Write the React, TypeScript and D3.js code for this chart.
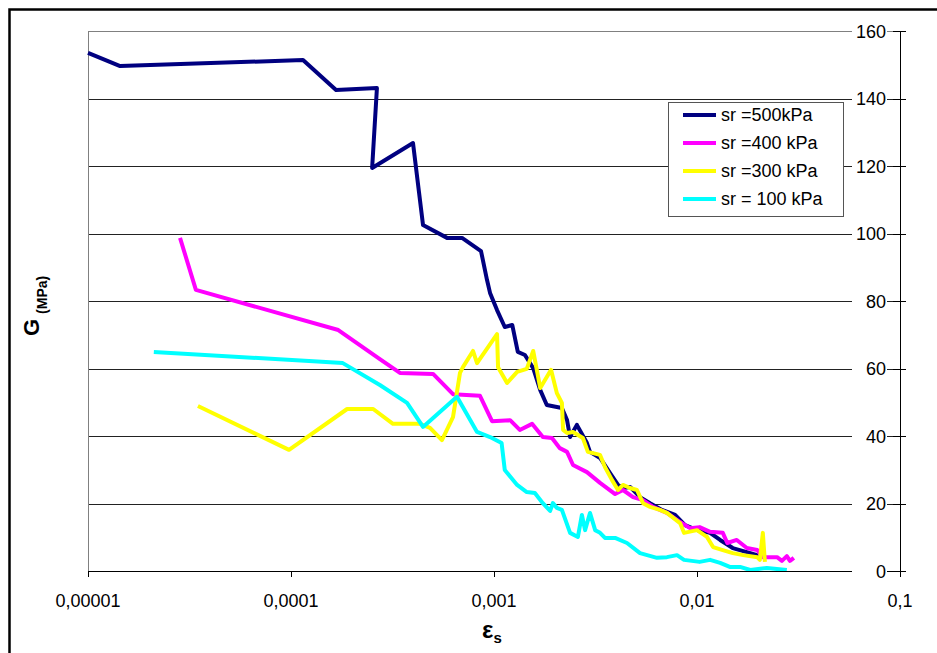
import React from "react";
import * as d3 from "d3";

// ---- data ----
const seriesNames = ["sr =500kPa", "sr =400 kPa", "sr =300 kPa", "sr = 100 kPa"];
const seriesColors = ["#000080", "#FF00FF", "#FFFF00", "#00FFFF"];

const strain500 = [1.0e-5, 1.44e-5, 1.146e-4, 1.667e-4, 2.65e-4, 2.51e-4, 3.99e-4, 4.27e-4, 4.47e-4, 5.87e-4, 6.96e-4, 8.63e-4, 9.24e-4, 9.56e-4, 1.035e-3, 1.13e-3, 1.23e-3, 1.31e-3, 1.42e-3, 1.56e-3, 1.69e-3, 1.82e-3, 2.16e-3, 2.29e-3, 2.37e-3, 2.56e-3, 2.87e-3, 2.97e-3, 3.33e-3, 3.73e-3, 4.08e-3, 4.32e-3, 4.68e-3, 5.24e-3, 5.87e-3, 6.72e-3, 7.8e-3, 8.73e-3, 1.0e-2, 1.16e-2, 1.3e-2, 1.5e-2, 1.76e-2, 1.98e-2, 2.09e-2];
const g500 = [153.5, 149.6, 151.4, 142.5, 143.1, 119.4, 126.8, 112.3, 102.5, 98.7, 98.7, 94.8, 86.2, 82.4, 77.3, 72.3, 72.9, 64.9, 64.0, 60.1, 53.6, 49.2, 48.3, 44.7, 39.7, 43.3, 37.9, 35.3, 33.5, 29.0, 25.5, 24.6, 24.9, 21.9, 20.1, 18.1, 16.6, 13.6, 12.1, 11.3, 9.2, 6.8, 5.6, 4.7, 4.1];

const strain400 = [2.84e-5, 3.4e-5, 1.71e-4, 2.74e-4, 3.44e-4, 5.01e-4, 6.28e-4, 8.53e-4, 9.78e-4, 1.2e-3, 1.34e-3, 1.54e-3, 1.74e-3, 1.93e-3, 2.11e-3, 2.29e-3, 2.45e-3, 2.87e-3, 3.33e-3, 3.95e-3, 4.32e-3, 4.84e-3, 5.42e-3, 6.07e-3, 7.11e-3, 8.25e-3, 9.24e-3, 1.03e-2, 1.16e-2, 1.34e-2, 1.41e-2, 1.57e-2, 1.76e-2, 1.98e-2, 2.11e-2, 2.48e-2, 2.62e-2, 2.77e-2, 2.87e-2, 3.0e-2];
const g400 = [98.7, 83.3, 71.4, 62.8, 58.7, 58.4, 52.4, 51.9, 44.4, 44.7, 41.8, 43.6, 39.7, 39.4, 36.4, 35.3, 31.4, 29.3, 26.1, 22.8, 24.0, 21.9, 21.0, 19.0, 17.2, 14.5, 12.7, 13.0, 11.6, 11.3, 8.3, 9.2, 6.8, 6.2, 4.1, 4.1, 3.0, 4.4, 3.0, 3.9];

const strain300 = [3.48e-5, 9.78e-5, 1.89e-4, 2.54e-4, 3.18e-4, 4.32e-4, 4.84e-4, 5.54e-4, 6.28e-4, 6.8e-4, 7.03e-4, 7.88e-4, 8.25e-4, 1.035e-3, 1.047e-3, 1.16e-3, 1.3e-3, 1.45e-3, 1.56e-3, 1.69e-3, 1.91e-3, 2.04e-3, 2.16e-3, 2.19e-3, 2.29e-3, 2.45e-3, 2.74e-3, 2.9e-3, 3.33e-3, 3.52e-3, 3.81e-3, 4.08e-3, 4.32e-3, 4.68e-3, 5.06e-3, 5.42e-3, 5.87e-3, 6.57e-3, 7.11e-3, 8.25e-3, 8.63e-3, 1.0e-2, 1.12e-2, 1.2e-2, 1.34e-2, 1.5e-2, 1.69e-2, 1.98e-2, 2.04e-2, 2.11e-2, 2.16e-2];
const g300 = [48.9, 35.9, 48.0, 48.0, 43.6, 43.6, 42.4, 38.8, 45.6, 58.7, 60.4, 65.2, 61.6, 70.2, 60.4, 55.7, 59.0, 59.9, 65.2, 54.2, 59.6, 52.7, 49.8, 41.8, 40.9, 41.2, 39.4, 35.3, 34.4, 30.8, 27.0, 24.0, 25.5, 24.6, 24.0, 20.1, 19.0, 18.1, 17.2, 14.2, 11.3, 12.1, 10.1, 7.1, 6.2, 5.3, 4.7, 4.1, 3.3, 11.3, 2.7];

const strain100 = [2.11e-5, 1.8e-4, 2.74e-4, 3.73e-4, 4.47e-4, 6.57e-4, 8.25e-4, 9.56e-4, 1.09e-3, 1.13e-3, 1.3e-3, 1.45e-3, 1.59e-3, 1.74e-3, 1.89e-3, 1.95e-3, 2.04e-3, 2.16e-3, 2.37e-3, 2.59e-3, 2.71e-3, 2.81e-3, 2.97e-3, 3.15e-3, 3.33e-3, 3.52e-3, 3.95e-3, 4.52e-3, 5.24e-3, 6.35e-3, 7.11e-3, 7.97e-3, 8.63e-3, 1.03e-2, 1.16e-2, 1.3e-2, 1.45e-2, 1.63e-2, 1.83e-2, 2.21e-2, 2.77e-2];
const g100 = [64.9, 61.6, 55.1, 49.8, 42.7, 51.6, 41.2, 39.7, 37.9, 29.9, 25.5, 23.4, 23.1, 20.1, 17.8, 20.1, 18.7, 18.1, 11.3, 10.1, 16.6, 12.1, 17.2, 12.1, 11.3, 9.8, 9.8, 8.3, 5.3, 3.9, 4.1, 4.7, 3.3, 2.7, 3.3, 2.4, 1.2, 1.2, 0.3, 0.9, 0.3];

const xTicks = [1e-5, 1e-4, 1e-3, 1e-2, 1e-1];
const xTickLabels = ["0,00001", "0,0001", "0,001", "0,01", "0,1"];
const yTicks = [0, 20, 40, 60, 80, 100, 120, 140, 160];

const strains = [strain500, strain400, strain300, strain100];
const gs = [g500, g400, g300, g100];

export default function App() {
  const W = 937, H = 653;
  const x = d3.scaleLog().domain([1e-5, 0.1]).range([88, 900]);
  const y = d3.scaleLinear().domain([0, 160]).range([571, 31]);
  const line = d3
    .line<[number, number]>()
    .x((d) => x(d[0]))
    .y((d) => y(d[1]));
  const font = "Arial, 'Liberation Sans', sans-serif";

  return (
    <svg
      width={W}
      height={H}
      style={{ position: "absolute", left: 0, top: 0, display: "block", background: "#fff" }}
      fontFamily={font}
    >
      <rect x={0} y={0} width={W} height={H} fill="#fff" />
      {/* outer chart border */}
      <rect x={9.5} y={9.5} width={W + 20} height={H + 20} fill="none" stroke="#000" strokeWidth={2.5} />

      {/* gridlines */}
      {yTicks.map((t) => (
        <line key={"g" + t} x1={88} x2={900} y1={Math.round(y(t)) + 0.5} y2={Math.round(y(t)) + 0.5} stroke="#222" strokeWidth={1} />
      ))}
      {/* plot area left border */}
      <line x1={88.5} x2={88.5} y1={31} y2={571} stroke="#808080" strokeWidth={1} />
      <line x1={88} x2={900} y1={31.5} y2={31.5} stroke="#808080" strokeWidth={1} />

      {/* series */}
      {strains.map((s, i) => {
        const pts: [number, number][] = s.map((v, j) => [v, gs[i][j]]);
        return (
          <path
            key={"s" + i}
            d={line(pts) || ""}
            fill="none"
            stroke={seriesColors[i]}
            strokeWidth={4}
            strokeLinejoin="round"
          />
        );
      })}

      {/* x axis */}
      <line x1={88} x2={900} y1={571.5} y2={571.5} stroke="#000" strokeWidth={1} />
      {xTicks.map((t, i) => (
        <g key={"xt" + i}>
          <line x1={Math.round(x(t)) + 0.5} x2={Math.round(x(t)) + 0.5} y1={571} y2={577} stroke="#000" />
          <text x={x(t)} y={607} textAnchor="middle" fontSize={18} fill="#000">
            {xTickLabels[i]}
          </text>
        </g>
      ))}

      {/* right y axis */}
      <line x1={900.5} x2={900.5} y1={31} y2={572} stroke="#000" strokeWidth={1} />
      {yTicks.map((t) => (
        <g key={"yt" + t}>
          <line x1={893} x2={906} y1={Math.round(y(t)) + 0.5} y2={Math.round(y(t)) + 0.5} stroke="#000" />
          <rect x={852} y={y(t) - 9} width={35} height={17} fill="#fff" />
          <text x={886} y={y(t) + 6.5} textAnchor="end" fontSize={18} fill="#000">
            {t}
          </text>
        </g>
      ))}

      {/* legend */}
      <rect x={668.5} y={102.5} width={175} height={114} fill="#fff" stroke="#555" strokeWidth={1} />
      {seriesNames.map((n, i) => {
        const ly = 115 + i * 28;
        return (
          <g key={"l" + i}>
            <line x1={683} x2={716} y1={ly} y2={ly} stroke={seriesColors[i]} strokeWidth={4} />
            <text x={721} y={ly + 6} fontSize={18} fill="#000">
              {n}
            </text>
          </g>
        );
      })}

      {/* axis titles */}
      <text x={482} y={638} fontSize={24} fontWeight="bold" fill="#000">
        ε<tspan fontSize={15} dy={5}>s</tspan>
      </text>
      <text transform="translate(39, 336) rotate(-90)" fontWeight="bold" fill="#000">
        <tspan fontSize={22}>G</tspan>
        <tspan fontSize={14} dy={8} dx={5}>(MPa)</tspan>
      </text>
    </svg>
  );
}
